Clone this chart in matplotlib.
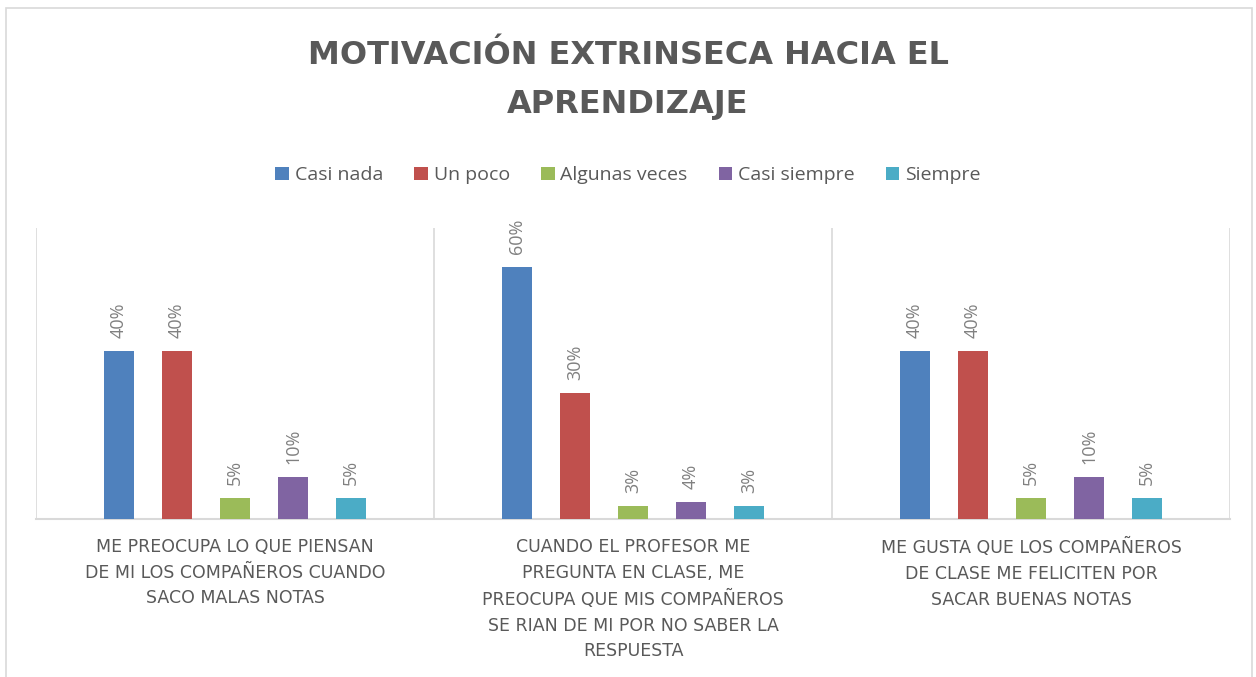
import numpy as np
import matplotlib.pyplot as plt
from matplotlib.patches import Rectangle

categories = [
    'ME PREOCUPA LO QUE PIENSAN\nDE MI LOS COMPAÑEROS CUANDO\nSACO MALAS NOTAS',
    'CUANDO EL PROFESOR ME\nPREGUNTA EN CLASE, ME\nPREOCUPA QUE MIS COMPAÑEROS\nSE RIAN DE MI POR NO SABER LA\nRESPUESTA',
    'ME GUSTA QUE LOS COMPAÑEROS\nDE CLASE ME FELICITEN POR\nSACAR BUENAS NOTAS',
]
series = ['Casi nada', 'Un poco', 'Algunas veces', 'Casi siempre', 'Siempre']
casi_nada = [40, 60, 40]
un_poco = [40, 30, 40]
algunas_veces = [5, 3, 5]
casi_siempre = [10, 4, 10]
siempre = [5, 3, 5]
colors = ['#4F81BD', '#C0504D', '#9BBB59', '#8064A2', '#4BACC6']

values = [casi_nada, un_poco, algunas_veces, casi_siempre, siempre]

plt.rcParams['font.family'] = ['Open Sans', 'DejaVu Sans']

fig = plt.figure(figsize=(12.56, 6.77), dpi=100)
ax = fig.add_axes([0.0287, 0.2334, 0.9506, 0.4298])

# light outer frame like the exported office chart
fig.patches.append(Rectangle((6 / 1256, -0.05), 1246 / 1256, 1.05 - 8 / 677,
                             transform=fig.transFigure, fill=False,
                             edgecolor='#D9D9D9', linewidth=1.2))

x = np.arange(len(categories))
step = 0.1457
width = 0.0754
for i, (name, vals, c) in enumerate(zip(series, values, colors)):
    pos = x + (i - 2) * step
    bars = ax.bar(pos, vals, width=width, color=c, label=name, zorder=3)
    for b, v in zip(bars, vals):
        ax.text(b.get_x() + b.get_width() / 2, v + 3.2, f'{v}%',
                rotation=90, ha='center', va='bottom', fontsize=13,
                color='#808080')

ax.set_xlim(-0.5, 2.5)
ax.set_ylim(0, 69.3)
ax.set_yticks([])
ax.set_xticks([])
for sep in [-0.5, 0.5, 1.5, 2.5]:
    ax.axvline(sep, color='#D9D9D9', linewidth=1.2, zorder=1)
for s in ['top', 'left', 'right']:
    ax.spines[s].set_visible(False)
ax.spines['bottom'].set_color('#D9D9D9')
ax.spines['bottom'].set_linewidth(1.5)

for xi, lab in zip(x, categories):
    ax.text(xi, -4.6, lab, ha='center', va='top', fontsize=12.5,
            color='#595959', linespacing=1.54, family='DejaVu Sans')

fig.text(0.5, 0.882, 'MOTIVACIÓN EXTRINSECA HACIA EL\nAPRENDIZAJE', ha='center',
         va='center', fontsize=23, fontweight='bold', color='#595959',
         linespacing=1.75, family='DejaVu Sans')

fig.legend(loc='center', bbox_to_anchor=(0.5, 0.741), ncol=5, frameon=False,
           fontsize=14, handlelength=0.7, handleheight=0.7, handletextpad=0.3,
           columnspacing=1.6, labelcolor='#595959')

fig.savefig('out.png', dpi=100, facecolor='white')
